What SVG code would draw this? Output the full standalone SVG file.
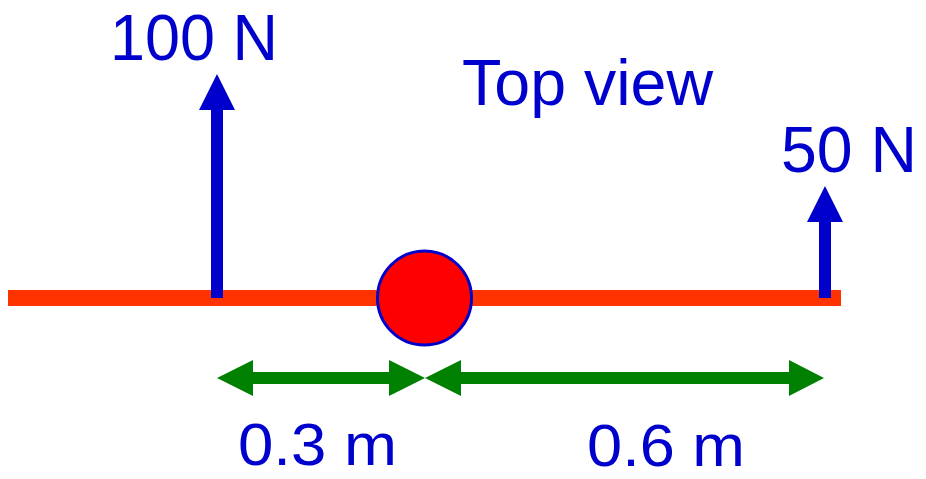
<svg xmlns="http://www.w3.org/2000/svg" width="926" height="479" viewBox="0 0 926 479">
<style>
.t{font-family:"Liberation Sans",Arial,sans-serif;font-size:64px;fill:#0000CC}
.s{font-size:60px}
.f{fill:#0000CC}
.g{fill:#008000}
</style>
<rect width="926" height="479" fill="#fff"/>
<g id="beam"><rect x="8" y="290" width="833" height="16" fill="#FF3300"/></g>
<g id="connectors">
<path class="f" d="M211 298V110H199L217 74L235 110H223V298Z"/>
<path class="f" d="M819 298V222H807L825 186L843 222H831V298Z"/>
<path class="g" d="M217 378L253 360V372H389V360L425 378L389 396V384H253V396Z"/>
<path class="g" d="M425 378L461 360V372H789V360L824 378L789 396V384H461V396Z"/>
</g>
<g id="pivot"><circle cx="424.5" cy="298" r="47" fill="#FF0000" stroke="#0000CC" stroke-width="3"/></g>
<g id="label-100N"><text class="t" x="110" y="60" textLength="168" lengthAdjust="spacingAndGlyphs">100 N</text></g>
<g id="label-top"><text class="t" x="462" y="105" textLength="251" lengthAdjust="spacingAndGlyphs">Top view</text></g>
<g id="label-50N"><text class="t" x="781" y="172" textLength="136" lengthAdjust="spacingAndGlyphs">50 N</text></g>
<g id="label-03"><text class="t s" x="238" y="465" textLength="159" lengthAdjust="spacingAndGlyphs">0.3 m</text></g>
<g id="label-06"><text class="t s" x="587" y="466" textLength="158" lengthAdjust="spacingAndGlyphs">0.6 m</text></g>
</svg>
